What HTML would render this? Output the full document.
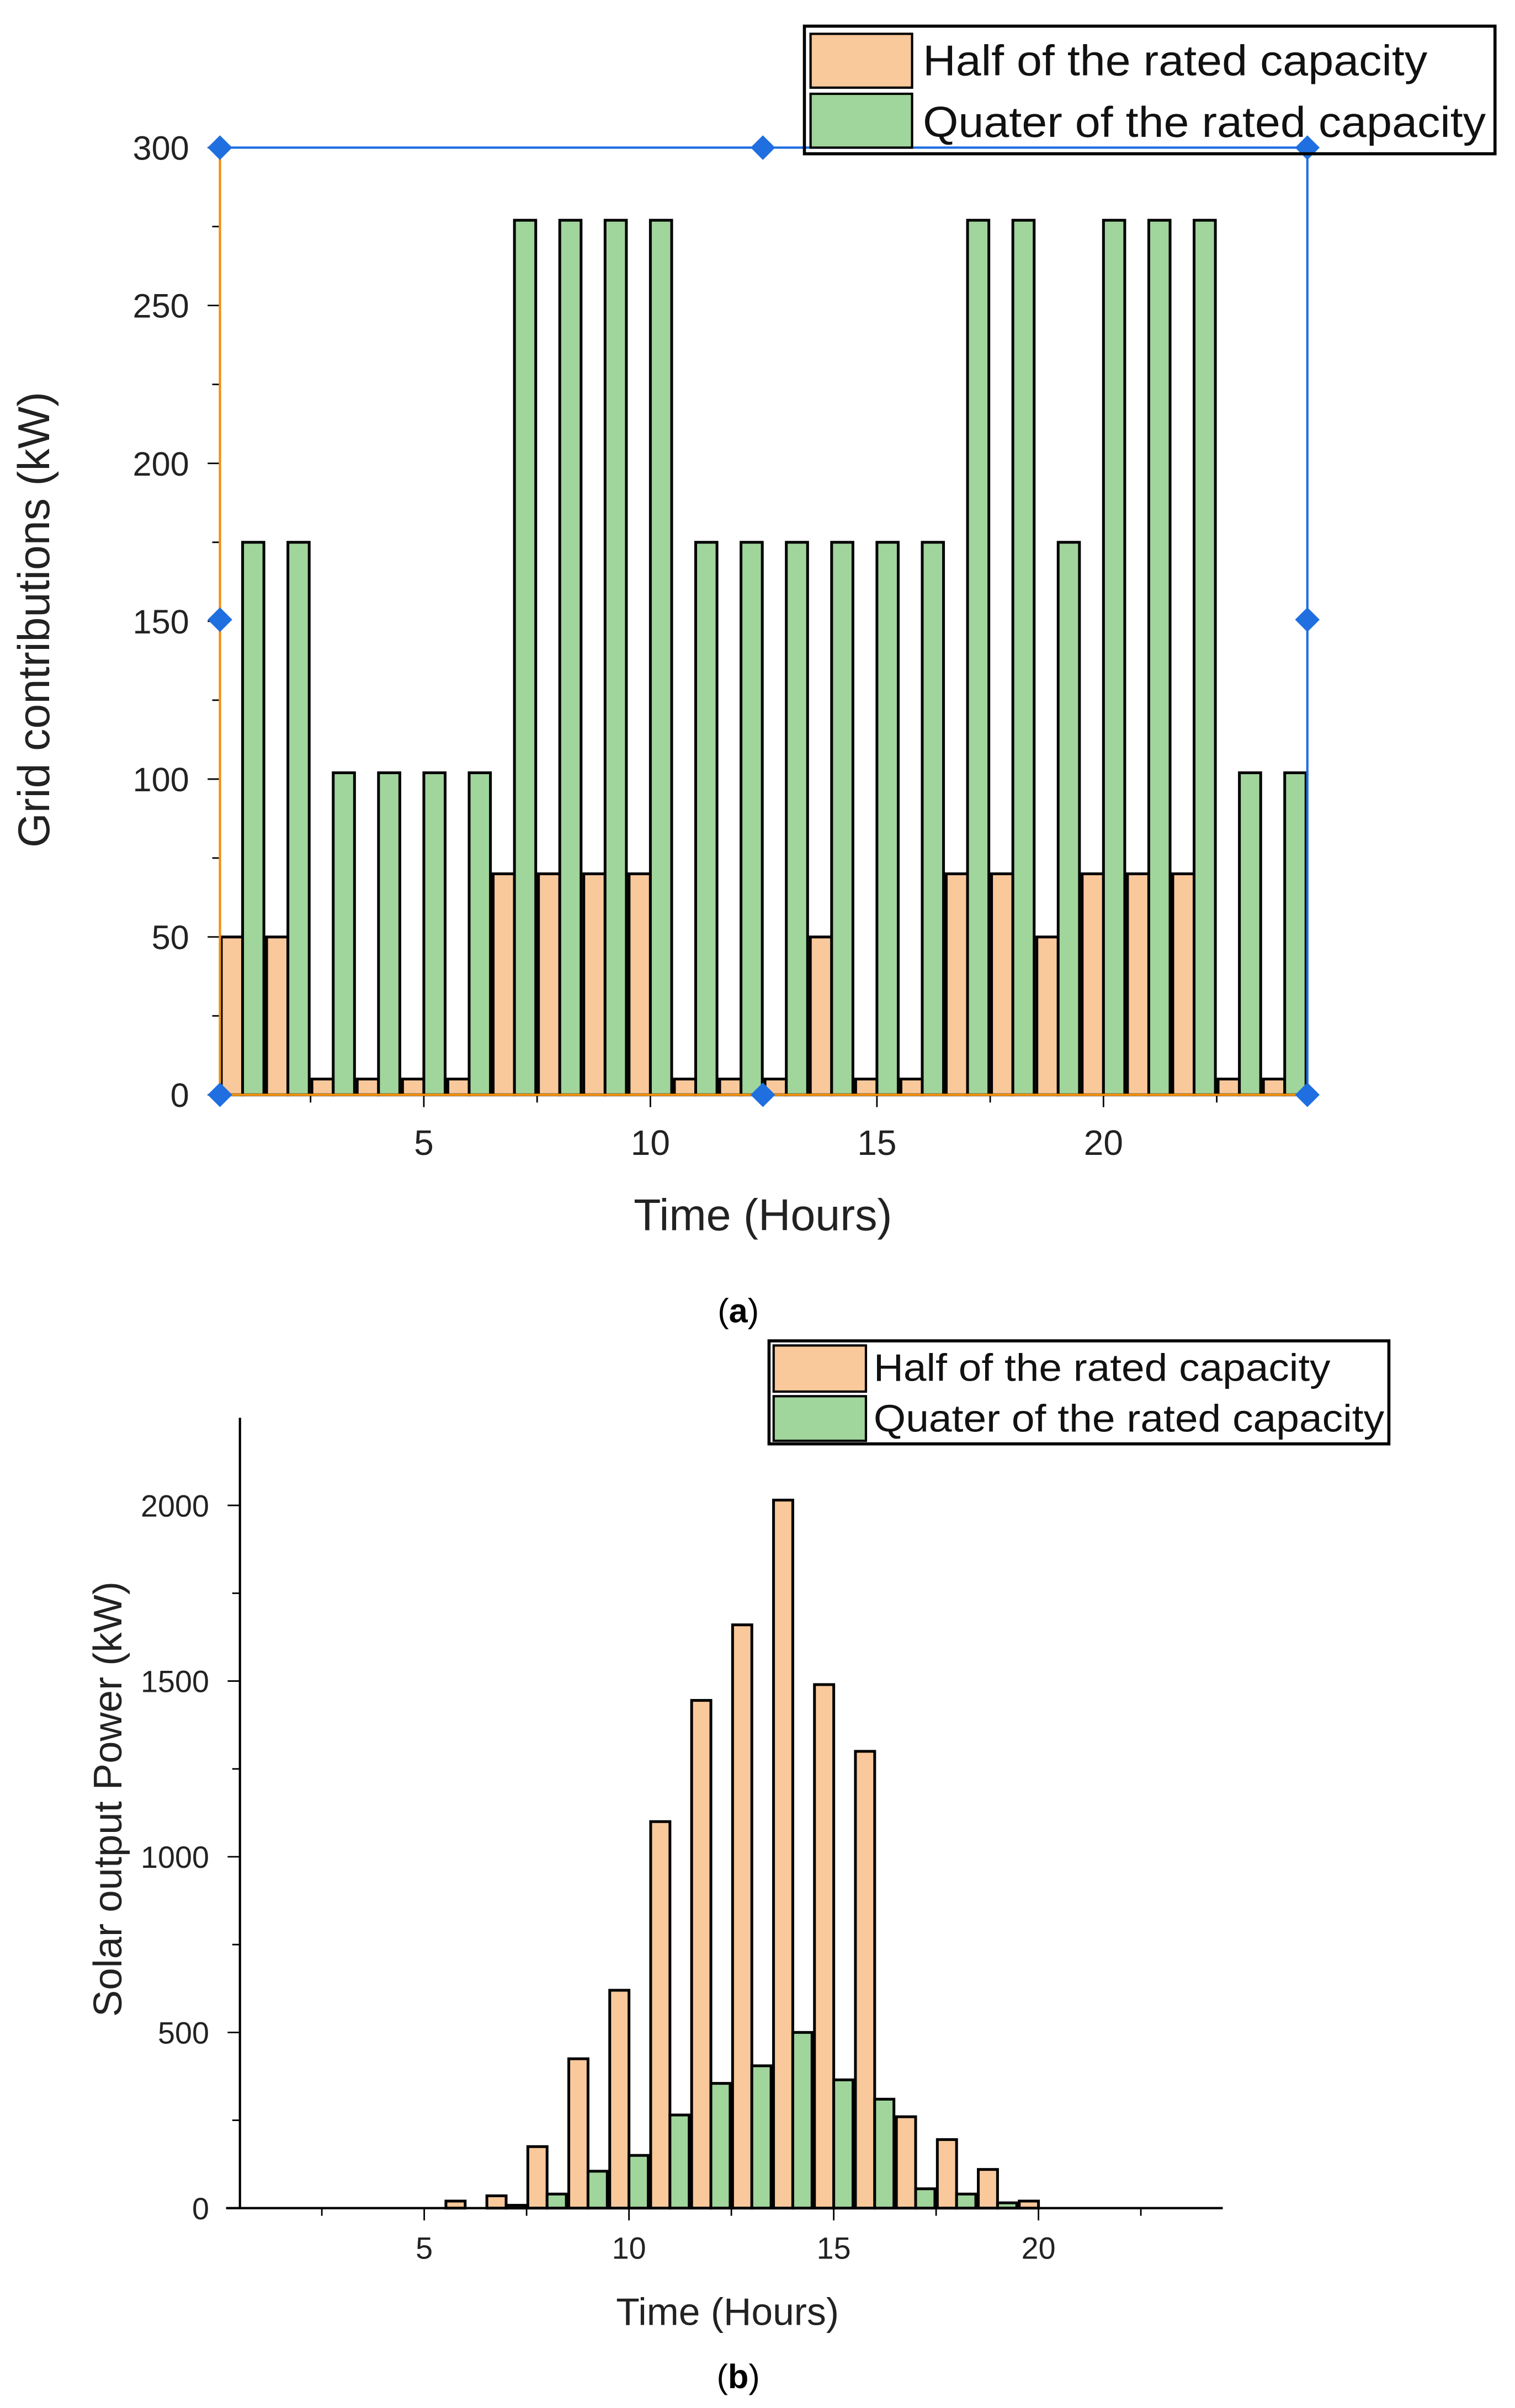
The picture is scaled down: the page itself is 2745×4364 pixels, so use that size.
<!DOCTYPE html>
<html><head><meta charset="utf-8"><style>
html,body{margin:0;padding:0;background:#fff;}
svg{display:block;}
text{font-family:"Liberation Sans",Arial,sans-serif;}
</style></head><body>
<svg id="root" width="2745" height="4364" viewBox="0 0 985 1566" preserveAspectRatio="none" xmlns="http://www.w3.org/2000/svg">
<g id="chartA"></g>
<g id="chartB"></g>
<text x="480" y="860" font-family="Liberation Serif, serif" font-size="22" text-anchor="middle">(<tspan font-weight="bold">a</tspan>)</text>
<text x="480" y="1553" font-family="Liberation Serif, serif" font-size="22" text-anchor="middle">(<tspan font-weight="bold">b</tspan>)</text>
</svg>
<script>
const hoursA = [1,2,3,4,5,6,7,8,9,10,11,12,13,14,15,16,17,18,19,20,21,22,23,24];
const halfA = [50,50,5,5,5,5,70,70,70,70,5,5,5,50,5,5,70,70,50,70,70,70,5,5];
const quarterA = [175,175,102,102,102,102,277,277,277,277,175,175,175,175,175,175,277,277,175,277,277,277,102,102];
const yTicksA = [0,50,100,150,200,250,300];
const xTicksA = [5,10,15,20];

const hoursB = [1,2,3,4,5,6,7,8,9,10,11,12,13,14,15,16,17,18,19,20,21,22,23,24];
const halfB = [0,0,0,0,0,20,35,175,425,620,1100,1445,1660,2015,1490,1300,260,195,110,20,0,0,0,0];
const quarterB = [0,0,0,0,0,0,8,40,105,150,265,355,405,500,365,310,55,40,15,0,0,0,0,0];
const yTicksB = [0,500,1000,1500,2000];
const xTicksB = [5,10,15,20];

const NS="http://www.w3.org/2000/svg";
function mk(parent,tag,attrs,txt){const e=document.createElementNS(NS,tag);for(const k in attrs)e.setAttribute(k,attrs[k]);if(txt!==undefined)e.textContent=txt;parent.appendChild(e);return e;}

function drawChart(g,cfg){
  const xs=h=>cfg.x0+(h-0.5)*(cfg.x1-cfg.x0)/24;
  const ys=v=>cfg.y0-v*(cfg.y0-cfg.yTop)/cfg.yMax;
  const bw=0.47*(cfg.x1-cfg.x0)/24;
  cfg.hours.forEach((h,i)=>{
    const c=xs(h);
    let r=mk(g,'rect',{x:c-bw,y:ys(cfg.half[i]),width:bw,height:cfg.y0-ys(cfg.half[i]),fill:'#f9c89b',stroke:'#000','stroke-width':1.8});
    
    
    let r2=mk(g,'rect',{x:c,y:ys(cfg.quarter[i]),width:bw,height:cfg.y0-ys(cfg.quarter[i]),fill:'#a0d59c',stroke:'#000','stroke-width':1.8});
    
    
  });
  cfg.yTicks.forEach(v=>{
    mk(g,'line',{x1:cfg.x0-8,x2:cfg.x0,y1:ys(v),y2:ys(v),stroke:'#000','stroke-width':1});
    const t=mk(g,'text',{x:cfg.x0-20,y:ys(v)+cfg.yFs*0.36,'font-size':cfg.yFs,'text-anchor':'end',fill:'#222'},String(v));
    
    
  });
  for(let k=0;k<cfg.yTicks.length-1;k++){
    const v=(cfg.yTicks[k]+cfg.yTicks[k+1])/2;
    mk(g,'line',{x1:cfg.x0-5,x2:cfg.x0,y1:ys(v),y2:ys(v),stroke:'#000','stroke-width':1});
  }
  cfg.xTicks.forEach(v=>{
    mk(g,'line',{x1:xs(v),x2:xs(v),y1:cfg.y0,y2:cfg.y0+8,stroke:'#000','stroke-width':1});
    const t=mk(g,'text',{x:xs(v),y:cfg.y0+cfg.xLabOff,'font-size':cfg.xFs,'text-anchor':'middle',fill:'#222'},String(v));
    
    
  });
  [2.5,7.5,12.5,17.5,22.5].forEach(v=>mk(g,'line',{x1:xs(v),x2:xs(v),y1:cfg.y0,y2:cfg.y0+5,stroke:'#000','stroke-width':1}));
}

const gA=document.getElementById('chartA');
drawChart(gA,{x0:143,x1:850,y0:712,yTop:96,yMax:300,hours:hoursA,half:halfA,quarter:quarterA,yTicks:yTicksA,xTicks:xTicksA,yFs:22,xFs:23,xLabOff:39});
mk(gA,'line',{x1:143,x2:143,y1:96,y2:712,stroke:'#f0900f','stroke-width':1.5});
mk(gA,'line',{x1:143,x2:850,y1:712,y2:712,stroke:'#f0900f','stroke-width':1.5});
mk(gA,'line',{x1:143,x2:850,y1:96,y2:96,stroke:'#1f6fe0','stroke-width':1.5});
mk(gA,'line',{x1:850,x2:850,y1:96,y2:712,stroke:'#1f6fe0','stroke-width':1.5});
[[143,96],[496,96],[850,96],[143,403],[850,403],[143,712],[496,712],[850,712]].forEach(p=>{
  const d=mk(gA,'polygon',{points:`${p[0]},${p[1]-8} ${p[0]+8},${p[1]} ${p[0]},${p[1]+8} ${p[0]-8},${p[1]}`,fill:'#1f6fe0'});
  
  
});
let tA=mk(gA,'text',{x:496,y:800,'font-size':29,'text-anchor':'middle',fill:'#222'},'Time (Hours)');

let yA=mk(gA,'text',{x:0,y:0,'font-size':29,'text-anchor':'middle',fill:'#222',transform:'translate(32,403) rotate(-90)'},'Grid contributions (kW)');

const lgA=mk(gA,'g',{});

mk(lgA,'rect',{x:523,y:17,width:449,height:83,fill:'none',stroke:'#000','stroke-width':2});
mk(lgA,'rect',{x:527,y:22,width:66,height:35,fill:'#f9c89b',stroke:'#000','stroke-width':1.5});
mk(lgA,'rect',{x:527,y:61,width:66,height:35,fill:'#a0d59c',stroke:'#000','stroke-width':1.5});
mk(lgA,'text',{x:600,y:49,'font-size':28,textLength:328,lengthAdjust:'spacingAndGlyphs',fill:'#111'},'Half of the rated capacity');
mk(lgA,'text',{x:600,y:89,'font-size':28,textLength:366,lengthAdjust:'spacingAndGlyphs',fill:'#111'},'Quater of the rated capacity');

const gB=document.getElementById('chartB');
drawChart(gB,{x0:156,x1:795,y0:1436,yTop:979,yMax:2000,hours:hoursB,half:halfB,quarter:quarterB,yTicks:yTicksB,xTicks:xTicksB,yFs:20,xFs:20,xLabOff:33});
mk(gB,'line',{x1:156,x2:156,y1:922,y2:1436,stroke:'#000','stroke-width':1.5});
mk(gB,'line',{x1:147,x2:795,y1:1436,y2:1436,stroke:'#000','stroke-width':1.5});
let tB=mk(gB,'text',{x:473,y:1512,'font-size':25,'text-anchor':'middle',fill:'#222'},'Time (Hours)');

let yB=mk(gB,'text',{x:0,y:0,'font-size':26,'text-anchor':'middle',fill:'#222',transform:'translate(79,1170) rotate(-90)'},'Solar output Power (kW)');

const lgB=mk(gB,'g',{});

mk(lgB,'rect',{x:500,y:872,width:403,height:67,fill:'none',stroke:'#000','stroke-width':2});
mk(lgB,'rect',{x:503,y:875,width:60,height:30,fill:'#f9c89b',stroke:'#000','stroke-width':1.5});
mk(lgB,'rect',{x:503,y:908,width:60,height:29,fill:'#a0d59c',stroke:'#000','stroke-width':1.5});
mk(lgB,'text',{x:568,y:898,'font-size':25,textLength:297,lengthAdjust:'spacingAndGlyphs',fill:'#111'},'Half of the rated capacity');
mk(lgB,'text',{x:568,y:931,'font-size':25,textLength:332,lengthAdjust:'spacingAndGlyphs',fill:'#111'},'Quater of the rated capacity');
</script>
</body></html>
